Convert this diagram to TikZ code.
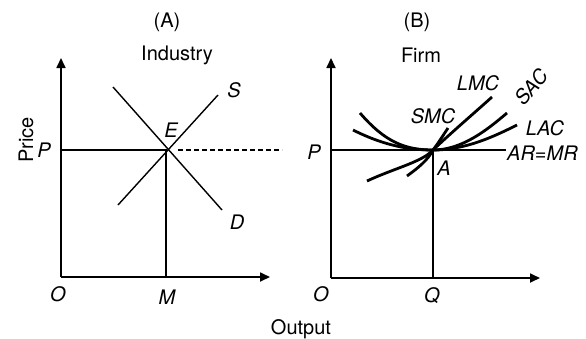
\documentclass[tikz,border=0pt]{standalone}
\usepackage{fontspec}
\setmainfont{TeX Gyre Heros}
\usetikzlibrary{arrows.meta}
\begin{document}
\begin{tikzpicture}[x=1pt,y=-1pt,
  axis/.style={line width=1.7pt,-{Triangle[length=10pt,width=9pt]}},
  thin line/.style={line width=1.4pt},
  curve/.style={line width=2.8pt},
  lbl/.style={font=\fontsize{20}{20}\selectfont\itshape, inner sep=0pt},
  ttl/.style={font=\fontsize{20}{20}\selectfont, inner sep=0pt}]
\useasboundingbox (0,0) rectangle (586,338);
\clip (0,0) rectangle (586,338);
% ---------- Panel A ----------
\coordinate (OA) at (61,277);
\coordinate (yA) at (61,58);
\coordinate (xA) at (270,277);
\coordinate (PA) at (61,150);
\coordinate (E) at (166,150);
\coordinate (M) at (166,277);
\coordinate (dashend) at (282,150);
\coordinate (S1) at (118,205);
\coordinate (S2) at (218,95);
\coordinate (D1) at (113,87);
\coordinate (D2) at (222,210);
\draw[axis] (OA) -- (yA);
\draw[axis] (OA) -- (xA);
\draw[thin line] (PA) -- (E) -- (M);
\draw[thin line,dash pattern=on 5pt off 3pt] ([xshift=12pt]E) -- (dashend);
\draw[thin line] (S1) -- (S2);
\draw[thin line] (D1) -- (D2);
\node[ttl] (tA) at (167,22) {(A)};
\node[ttl] (indA) at (177,55) {Industry};
\node[lbl] (lS) at (234,90) {S};
\node[lbl] (lE) at (171,130) {E};
\node[lbl] (lP) at (44,150) {P};
\node[lbl] (lD) at (237,222) {D};
\node[lbl] (lO) at (58,294) {O};
\node[lbl] (lM) at (167,297) {M};
\node[ttl,rotate=90] (price) at (26,140) {Price};
% ---------- Panel B ----------
\coordinate (OB) at (331,278);
\coordinate (yB) at (331,58);
\coordinate (xB) at (540,278);
\coordinate (PB) at (331,150);
\coordinate (A) at (433,150);
\coordinate (Q) at (433,278);
\coordinate (ARend) at (506,150);
\draw[axis] (OB) -- (yB);
\draw[axis] (OB) -- (xB);
\draw[thin line] (PB) -- (ARend);
\draw[thin line] (A) -- (Q);
% SAC
\draw[curve] (360,113) .. controls (385,142) and (405,150) .. (A) .. controls (462,150) and (487,130) .. (507,113);
% LAC
\draw[curve] (353,130) .. controls (385,146) and (410,150) .. (A) .. controls (466,150) and (495,136) .. (517,125);
% LMC
\draw[curve] (407,176) .. controls (418,168) and (428,160) .. (A) .. controls (452,132) and (472,115) .. (492,97);
% SMC
\draw[curve] (367,181) .. controls (395,168) and (422,162) .. (A) .. controls (439,142) and (444,134) .. (448,128);
\node[ttl] (tB) at (417,22) {(B)};
\node[ttl] (firm) at (421,55) {Firm};
\node[lbl] (lLMC) at (478,83) {LMC};
\node[lbl,rotate=50] (lSAC) at (531,87) {SAC};
\node[lbl] (lSMC) at (433,116) {SMC};
\node[lbl] (lLAC) at (545,128) {LAC};
\node[lbl,anchor=west] (lAR) at (507,153) {AR=MR};
\node[lbl] (lA) at (444,168) {A};
\node[lbl] (lPB) at (314,152) {P};
\node[lbl] (lOB) at (321,294) {O};
\node[lbl] (lQ) at (432,296) {Q};
\node[ttl] (output) at (301,329) {Output};
\end{tikzpicture}
\end{document}
